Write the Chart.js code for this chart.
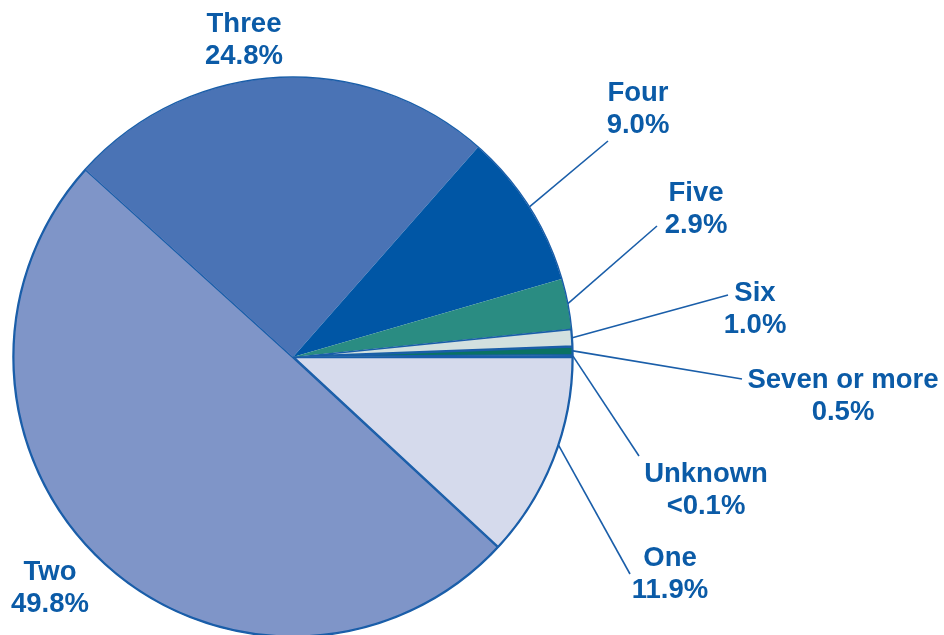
<!DOCTYPE html>
<html>
<head>
<meta charset="utf-8">
<script src="https://cdn.jsdelivr.net/npm/chart.js@4/dist/chart.umd.min.js"></script>
<style>
  html, body { margin: 0; padding: 0; background: #fff; }
  #wrap { width: 944px; height: 635px; }
</style>
</head>
<body>
<div id="wrap"><canvas id="pie"></canvas></div>
<script>
// share of households by size (percent)
var categories = ["One", "Two", "Three", "Four", "Five", "Six", "Seven or more", "Unknown"];
var shares     = [11.9, 49.8, 24.8, 9.0, 2.9, 1.0, 0.5, 0.1];
var shareText  = ["11.9%", "49.8%", "24.8%", "9.0%", "2.9%", "1.0%", "0.5%", "<0.1%"];

var fills = ["#d5daec", "#7f95c8", "#4a73b5", "#0056a5", "#2a8c82", "#d2e0df", "#0a7263", "#84aba7"];
var blue = "#1a5ea9";
var textBlue = "#0b5ba7";

// where each label sits: text centre x/y, leader end x/y (null = no leader), anchor point along the slice
var labelLayout = [
    { x: 670, y: 558, lx: 630, ly: 574, at: 0.43 },
    { x: 50,  y: 572, lx: null },
    { x: 244, y: 24,  lx: null },
    { x: 638, y: 93,  lx: 608, ly: 141, at: 0.5 },
    { x: 696, y: 193, lx: 657, ly: 226, at: 0.5 },
    { x: 755, y: 293, lx: 728, ly: 295, at: 0.5 },
    { x: 843, y: 380, lx: 742, ly: 379, at: 0.5 },
    { x: 706, y: 474, lx: 639, ly: 456, at: 0.5 }
];

var pieLabels = {
    id: 'pieLabels',
    afterDatasetsDraw: function(chart) {
        var ctx = chart.ctx;
        var arcs = chart.getDatasetMeta(0).data;
        var cx = arcs[0].x, cy = arcs[0].y, r = arcs[0].outerRadius;

        // outline round the whole pie
        ctx.save();
        ctx.strokeStyle = blue;
        ctx.lineWidth = 1.5;
        ctx.beginPath();
        ctx.arc(cx, cy, r, 0, Math.PI * 2);
        ctx.stroke();

        ctx.font = "bold 27.5px 'Liberation Sans', Arial, sans-serif";
        ctx.textAlign = 'center';
        ctx.textBaseline = 'middle';
        for (var i = 0; i < arcs.length; i++) {
            var a = arcs[i], L = labelLayout[i];
            if (L.lx !== null) {
                var ang = a.startAngle + (a.endAngle - a.startAngle) * L.at;
                ctx.strokeStyle = blue;
                ctx.lineWidth = 1.6;
                ctx.beginPath();
                ctx.moveTo(cx + r * Math.cos(ang), cy + r * Math.sin(ang));
                ctx.lineTo(L.lx, L.ly);
                ctx.stroke();
            }
            ctx.fillStyle = textBlue;
            ctx.fillText(categories[i], L.x, L.y);
            ctx.fillText(shareText[i], L.x, L.y + 32);
        }
        ctx.restore();
    }
};

var ctx = document.getElementById('pie').getContext('2d');
var chart = new Chart(ctx, {
    type: 'pie',
    data: {
        labels: categories,
        datasets: [{
            data: shares,
            backgroundColor: fills,
            borderColor: blue,
            borderWidth: [1.2, 1.2, 0, 0, 0, 1.2, 1.2, 1.2],
            borderAlign: 'inner',
            radius: 280
        }]
    },
    options: {
        responsive: true,
        maintainAspectRatio: false,
        animation: false,
        events: [],
        rotation: 90,
        layout: { padding: { left: 13, right: 371, top: 79, bottom: 0 } },
        plugins: {
            legend: { display: false },
            tooltip: { enabled: false }
        }
    },
    plugins: [pieLabels]
});
</script>
</body>
</html>
